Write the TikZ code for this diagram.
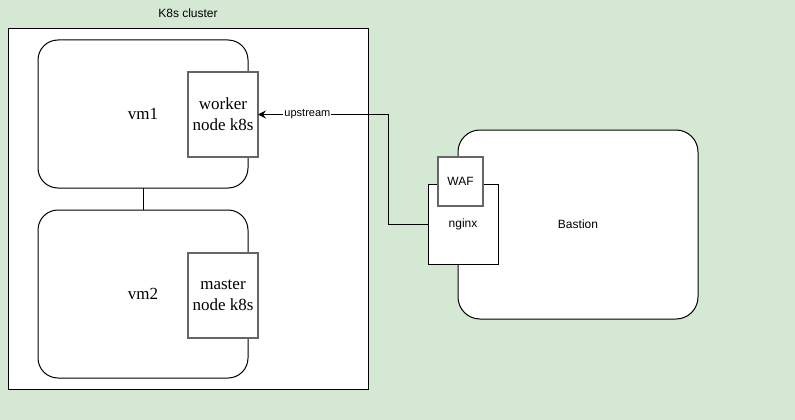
\documentclass[tikz,border=0pt]{standalone}
\usepackage{xcolor}
\usepackage{fontspec}
\setmainfont{Liberation Serif}
\setsansfont{Liberation Sans}
\usepackage{tikz}
\usetikzlibrary{positioning, arrows.meta}
\definecolor{bggreen}{HTML}{D5E8D4}
\definecolor{edgegray}{HTML}{666666}

\begin{document}
\begin{tikzpicture}[x=1pt, y=-1pt, line width=1pt,
  every node/.style={inner sep=0pt, outer sep=0pt},
  box/.style={rectangle, draw=black, fill=white, anchor=north west, text centered},
  vmbox/.style={box, rounded corners=20pt, minimum width=210pt, font=\fontsize{17}{20}\selectfont},
  k8sbox/.style={box, draw=edgegray, line width=1.2pt, minimum width=70pt, minimum height=85pt, align=center, font=\fontsize{17}{21}\selectfont},
  lbl/.style={font=\sffamily\fontsize{12}{14}\selectfont}]

\fill[bggreen] (0,0) rectangle (795,420);

% k8s side
\node (cluster) [box, minimum width=360pt, minimum height=360pt] at (8,29) {};
\node (clusterlbl) [lbl] at (188,13) {K8s cluster};

\node (vm1) [vmbox, minimum height=148pt] at (38,40) {vm1};
\node (vm2) [vmbox, minimum height=168pt] at (38,210) {vm2};
\node (worker) [k8sbox] at (188,72) {worker\\node k8s};
\node (master) [k8sbox] at (188,253) {master\\node k8s};

\draw (vm1) -- (vm2);

% bastion side
\node (bastion) [box, rounded corners=22pt, minimum width=240pt, minimum height=189pt, lbl] at (458,130) {Bastion};
\node (nginx) [box, minimum width=70pt, minimum height=80pt, lbl] at (428,184) {nginx};
\node (waf) [box, draw=edgegray, line width=1.2pt, minimum width=45pt, minimum height=49pt, lbl] at (438,157) {WAF};

\draw[-{Stealth[length=8pt, width=8pt, inset=3pt]}] (nginx.west) -- ++(-40,0) |- node[pos=0.81, fill=white, inner sep=1pt, font=\sffamily\fontsize{11}{13}\selectfont] {upstream} (worker.east);

\end{tikzpicture}
\end{document}
